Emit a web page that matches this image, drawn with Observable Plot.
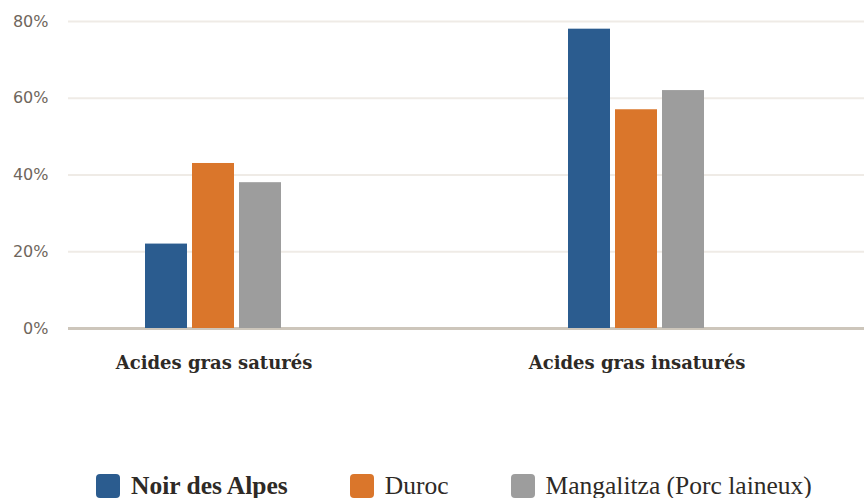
<!DOCTYPE html>
<html>
<head>
<meta charset="utf-8">
<script src="https://cdn.jsdelivr.net/npm/d3@7"></script>
<script src="https://cdn.jsdelivr.net/npm/@observablehq/plot@0.6"></script>
<style>
  html, body { margin: 0; padding: 0; background: #fff; overflow: hidden; }
  #chart { position: relative; width: 864px; height: 440px; }
  #chart svg { position: absolute; left: 0; top: 0; background: transparent; }
  g[aria-label^="y-axis"] text { font: 16px "DejaVu Sans", sans-serif; fill: #6f665c; }
  g[aria-label^="fx-axis"] text { font: bold 18px "DejaVu Serif", serif; fill: #2e2a26; }
  #legend { display: flex; align-items: center; padding: 34px 0 0 96px; gap: 62px; height: 24px;
            font-family: "Liberation Serif", serif; font-size: 25.5px; line-height: 24px; color: #2e2a26; }
  .item { display: flex; align-items: center; gap: 11px; height: 24px; }
  .sw { width: 24px; height: 24px; border-radius: 4px; }
</style>
</head>
<body>
<div id="chart"></div>
<div id="legend"></div>
<script>
const categories = ["Acides gras saturés", "Acides gras insaturés"];
const breeds = ["Noir des Alpes", "Duroc", "Mangalitza (Porc laineux)"];
const noirDesAlpes = [22, 78];
const duroc = [43, 57];
const mangalitza = [38, 62];
const yTicks = [0, 20, 40, 60, 80];

const colors = ["#2b5c8f", "#da762b", "#9d9d9d"];
const series = [noirDesAlpes, duroc, mangalitza];
const rows = [];
categories.forEach((c, i) => breeds.forEach((b, j) => rows.push({category: c, breed: b, value: series[j][i]})));

const common = {width: 864, height: 440, marginTop: 21, marginBottom: 112};

const back = Plot.plot({
  ...common,
  marginLeft: 68, marginRight: 0,
  style: {background: "transparent", overflow: "visible"},
  y: {domain: [0, 80], ticks: yTicks, tickFormat: d => d + "%", tickSize: 0, tickPadding: 20, label: null},
  marks: [
    Plot.ruleY(yTicks.filter(d => d > 0), {stroke: "#efebe6", strokeWidth: 2}),
    Plot.ruleY([0], {stroke: "#cdc6bb", strokeWidth: 3})
  ]
});

const front = Plot.plot({
  ...common,
  marginLeft: 144, marginRight: 158,
  style: {background: "transparent", overflow: "visible"},
  facet: {data: rows, x: "category"},
  fx: {domain: categories, paddingInner: 0.6714, paddingOuter: 0, tickSize: 0, tickPadding: 28, label: null, axis: "bottom"},
  x: {domain: breeds, paddingInner: 0.104, paddingOuter: 0, axis: null},
  y: {domain: [0, 80], axis: null},
  color: {domain: breeds, range: colors},
  marks: [
    Plot.barY(rows, {x: "breed", y: "value", fill: "breed"})
  ]
});

const chart = document.getElementById("chart");
chart.appendChild(back);
chart.appendChild(front);

const legend = document.getElementById("legend");
breeds.forEach((b, j) => {
  const it = document.createElement("div");
  it.className = "item";
  const sw = document.createElement("div");
  sw.className = "sw";
  sw.style.background = colors[j];
  const t = document.createElement("span");
  t.textContent = b;
  if (j === 0) t.style.fontWeight = "bold";
  it.appendChild(sw); it.appendChild(t);
  legend.appendChild(it);
});
</script>
</body>
</html>
